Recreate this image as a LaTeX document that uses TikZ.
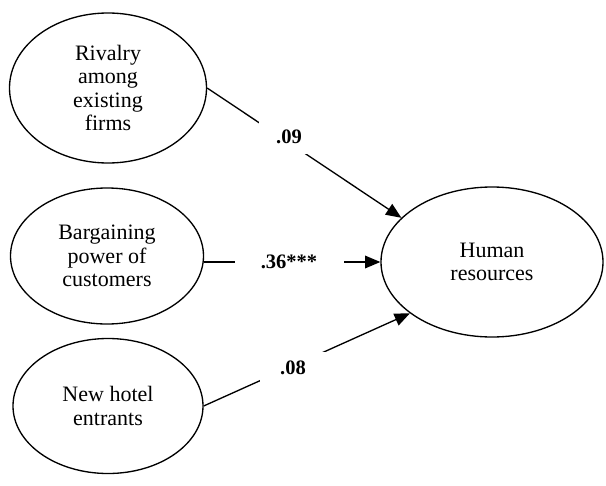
\documentclass[tikz,border=0pt]{standalone}
\usepackage{fontspec}
\setmainfont{Liberation Serif}
\usetikzlibrary{shapes.geometric,arrows.meta}

\tikzset{
  construct/.style={draw, ellipse, line width=1pt, inner sep=0pt, align=center,
    font=\fontsize{16.5}{17.6}\selectfont},
  path/.style={line width=1pt},
  arrowpath/.style={path, -{Triangle[length=11.5pt, width=9.5pt]}},
  coef/.style={fill=white, inner sep=0pt, font=\fontsize{15.4}{17}\selectfont\bfseries},
}

\begin{document}
\begin{tikzpicture}[x=0.75pt, y=-0.75pt]
  \useasboundingbox (0,0) rectangle (606,485);

  % latent constructs
  \node[construct, minimum width=147.75pt, minimum height=112.5pt] (rival) at (108,88)
    {Rivalry\\among\\existing\\firms};
  \node[construct, minimum width=144.75pt, minimum height=102pt] (bargain) at (107,256)
    {Bargaining\\power of\\customers};
  \node[construct, minimum width=142.5pt, minimum height=101.25pt] (entrant) at (108,406)
    {New hotel\\entrants};
  \node[construct, minimum width=166.5pt, minimum height=112.5pt] (hr) at (492,262)
    {Human\\resources};

  % structural paths
  \draw[arrowpath] (rival.east) -- (hr.154.7);
  \draw[arrowpath] (bargain.east |- hr.west) -- (hr.west);
  \draw[arrowpath] (entrant.east) -- (hr.212.5);

  % path coefficients, set into gaps of the paths
  \node[coef, minimum width=45pt, minimum height=25.5pt] (c1) at (289,137) {.09};
  \node[coef, minimum width=81.75pt, minimum height=15pt] (c2) at (289,262) {.36***};
  \node[coef, minimum width=50.25pt, minimum height=24pt] (c3) at (293,368) {.08};
\end{tikzpicture}
\end{document}
